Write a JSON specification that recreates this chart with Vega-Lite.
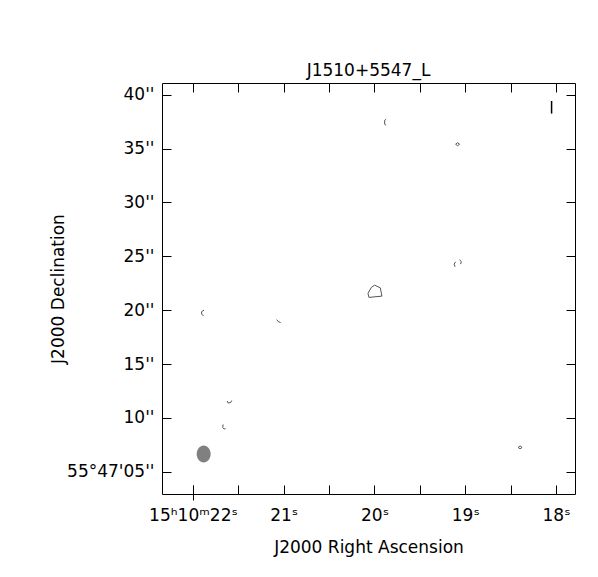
{
  "$schema": "https://vega.github.io/schema/vega-lite/v6.json",
  "width": 413,
  "height": 411,
  "autosize": "none",
  "padding": {"left": 162, "top": 83, "right": 23, "bottom": 83},
  "background": "white",
  "title": {"text": "J1510+5547_L", "font": "DejaVu Sans", "fontSize": 17, "fontWeight": "normal", "offset": 3, "color": "black"},
  "config": {
    "view": {"stroke": "black", "strokeWidth": 1},
    "axis": {
      "labelFont": "DejaVu Sans", "titleFont": "DejaVu Sans",
      "labelFontSize": 17, "titleFontSize": 17, "titleFontWeight": "normal",
      "labelColor": "black", "titleColor": "black", "tickColor": "black",
      "domain": false, "grid": false, "tickSize": 9, "tickWidth": 1, "offset": -9,
      "labelOverlap": false, "labelFlush": false, "labelBound": false
    }
  },
  "datasets": {
    "contours": [
      {"c": 1, "i": 0, "ra": 19.999, "dec": 22.324},
      {"c": 1, "i": 1, "ra": 19.936, "dec": 22.073},
      {"c": 1, "i": 2, "ra": 19.918, "dec": 21.303},
      {"c": 1, "i": 3, "ra": 20.061, "dec": 21.183},
      {"c": 1, "i": 4, "ra": 20.072, "dec": 21.554},
      {"c": 1, "i": 5, "ra": 20.035, "dec": 22.110},
      {"c": 1, "i": 6, "ra": 19.999, "dec": 22.324},
      {"c": 2, "i": 0, "ra": 19.872, "dec": 37.72},
      {"c": 2, "i": 1, "ra": 19.888, "dec": 37.63},
      {"c": 2, "i": 2, "ra": 19.888, "dec": 37.26},
      {"c": 2, "i": 3, "ra": 19.872, "dec": 37.17},
      {"c": 3, "i": 0, "ra": 19.106, "dec": 35.404},
      {"c": 3, "i": 1, "ra": 19.084, "dec": 35.543},
      {"c": 3, "i": 2, "ra": 19.062, "dec": 35.404},
      {"c": 3, "i": 3, "ra": 19.084, "dec": 35.264},
      {"c": 3, "i": 4, "ra": 19.106, "dec": 35.404},
      {"c": 4, "i": 0, "ra": 19.106, "dec": 24.485},
      {"c": 4, "i": 1, "ra": 19.123, "dec": 24.272},
      {"c": 4, "i": 2, "ra": 19.112, "dec": 24.021},
      {"c": 5, "i": 0, "ra": 19.062, "dec": 24.689},
      {"c": 5, "i": 1, "ra": 19.044, "dec": 24.504},
      {"c": 5, "i": 2, "ra": 19.051, "dec": 24.272},
      {"c": 6, "i": 0, "ra": 21.878, "dec": 20.005},
      {"c": 6, "i": 1, "ra": 21.904, "dec": 19.866},
      {"c": 6, "i": 2, "ra": 21.904, "dec": 19.634},
      {"c": 6, "i": 3, "ra": 21.882, "dec": 19.448},
      {"c": 7, "i": 0, "ra": 21.078, "dec": 19.123},
      {"c": 7, "i": 1, "ra": 21.061, "dec": 18.938},
      {"c": 7, "i": 2, "ra": 21.034, "dec": 18.845},
      {"c": 8, "i": 0, "ra": 21.623, "dec": 11.563},
      {"c": 8, "i": 1, "ra": 21.612, "dec": 11.378},
      {"c": 8, "i": 2, "ra": 21.584, "dec": 11.424},
      {"c": 8, "i": 3, "ra": 21.573, "dec": 11.609},
      {"c": 9, "i": 0, "ra": 21.667, "dec": 9.383},
      {"c": 9, "i": 1, "ra": 21.673, "dec": 9.105},
      {"c": 9, "i": 2, "ra": 21.656, "dec": 8.966},
      {"c": 9, "i": 3, "ra": 21.640, "dec": 9.012},
      {"c": 10, "i": 0, "ra": 18.418, "dec": 7.250},
      {"c": 10, "i": 1, "ra": 18.396, "dec": 7.389},
      {"c": 10, "i": 2, "ra": 18.374, "dec": 7.250},
      {"c": 10, "i": 3, "ra": 18.396, "dec": 7.129},
      {"c": 10, "i": 4, "ra": 18.418, "dec": 7.250}
    ],
    "edge": [
      {"c": 11, "i": 0, "ra": 18.049, "dec": 39.42},
      {"c": 11, "i": 1, "ra": 18.049, "dec": 38.251}
    ],
    "beam": [
      {"ra": 21.882, "dec": 6.65}
    ]
  },
  "layer": [
    {
      "data": {"name": "contours"},
      "mark": {"type": "line", "color": "#555555", "strokeWidth": 1},
      "encoding": {
        "x": {
          "field": "ra", "type": "quantitative",
          "scale": {"domain": [17.791, 22.341], "reverse": true, "zero": false, "nice": false},
          "axis": {
            "orient": "bottom",
            "values": [18, 18.5, 19, 19.5, 20, 20.5, 21, 21.5, 22],
            "labelExpr": "datum.value == 22 ? '15ʰ10ᵐ22ˢ' : (datum.value % 1 == 0 ? format(datum.value, 'd') + 'ˢ' : '')",
            "labelPadding": 13,
            "title": "J2000 Right Ascension",
            "titlePadding": 16
          }
        },
        "y": {
          "field": "dec", "type": "quantitative",
          "scale": {"domain": [2.93, 41.09], "zero": false, "nice": false},
          "axis": {
            "orient": "left",
            "values": [5, 10, 15, 20, 25, 30, 35, 40],
            "labelExpr": "datum.value == 5 ? \"55°47'05''\" : datum.value + \"''\"",
            "labelPadding": 8,
            "title": "J2000 Declination",
            "titlePadding": -1
          }
        },
        "detail": {"field": "c", "type": "nominal"},
        "order": {"field": "i", "type": "quantitative"}
      }
    },
    {
      "data": {"name": "beam"},
      "mark": {"type": "point", "shape": "M -0.82 0 A 0.82 1 0 1 0 0.82 0 A 0.82 1 0 1 0 -0.82 0 Z", "filled": true, "color": "#808080", "opacity": 1, "size": 289, "strokeWidth": 0},
      "encoding": {
        "x": {
          "field": "ra", "type": "quantitative",
          "axis": {"orient": "top", "values": [18, 18.5, 19, 19.5, 20, 20.5, 21, 21.5, 22], "labels": false, "title": null}
        },
        "y": {
          "field": "dec", "type": "quantitative",
          "axis": {"orient": "right", "values": [5, 10, 15, 20, 25, 30, 35, 40], "labels": false, "title": null}
        }
      }
    },
    {
      "data": {"name": "edge"},
      "mark": {"type": "line", "color": "black", "strokeWidth": 1.5},
      "encoding": {
        "x": {"field": "ra", "type": "quantitative", "axis": {"orient": "bottom", "values": [22], "labels": false, "title": null, "tickSize": 15, "offset": -9}},
        "y": {"field": "dec", "type": "quantitative", "axis": null},
        "detail": {"field": "c", "type": "nominal"},
        "order": {"field": "i", "type": "quantitative"}
      }
    }
  ],
  "resolve": {"axis": {"x": "independent", "y": "independent"}}
}
